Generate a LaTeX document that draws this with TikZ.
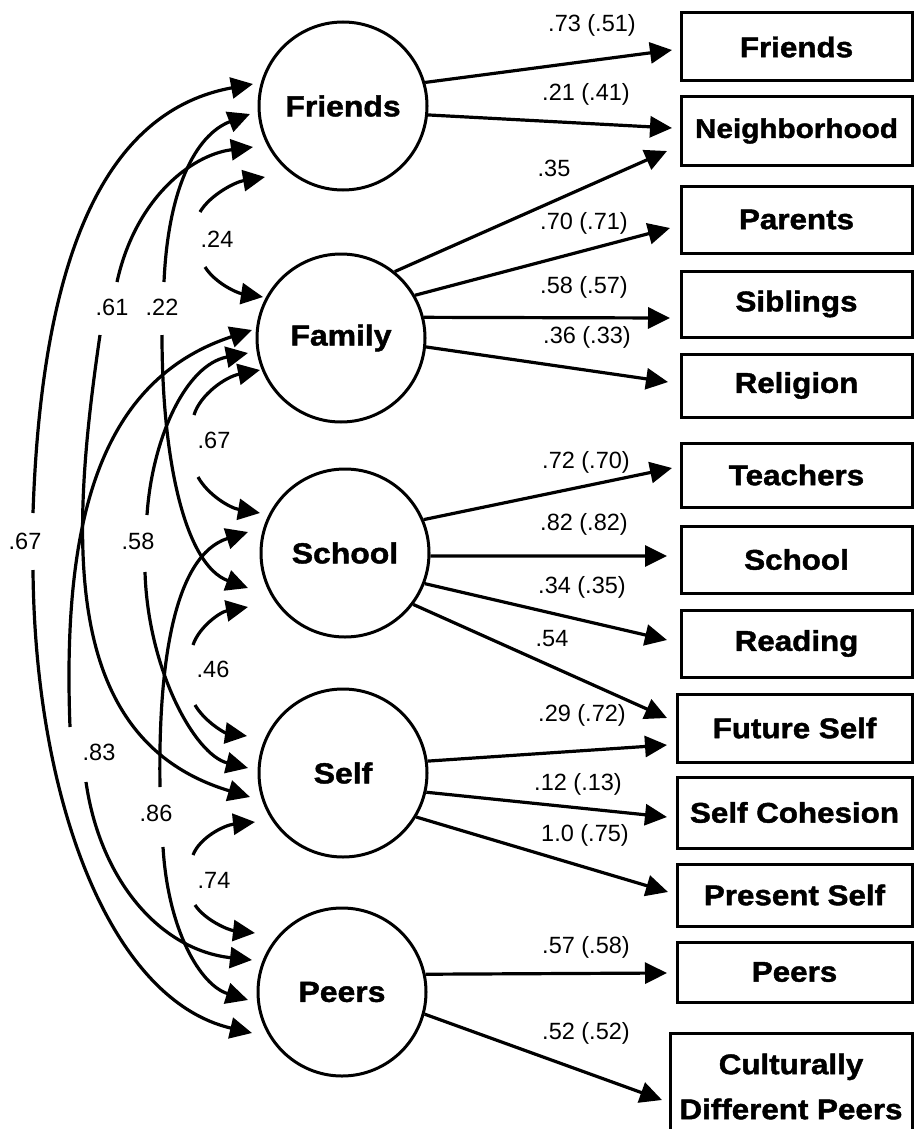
\documentclass[tikz,border=0pt]{standalone}
\usepackage{fontspec}
\setmainfont{Liberation Sans}
\newfontfamily\heavy{Liberation Sans}[FakeStretch=1.1,FakeBold=1.5]
\usetikzlibrary{arrows.meta,calc}
\begin{document}
\begin{tikzpicture}[x=1pt,y=-1pt,
  lat/.style={circle,draw,line width=3pt,minimum size=168pt,inner sep=0pt,font=\heavy\bfseries\fontsize{29}{34}\selectfont},
  ind/.style={rectangle,draw,line width=3pt,inner sep=0pt,font=\heavy\bfseries\fontsize{28.5}{45}\selectfont},
  arr/.style={line width=3.2pt,-{Triangle[length=22pt,width=21pt]}},
  lbl/.style={font=\fontsize{23.5}{28}\selectfont,inner sep=0pt}]
\useasboundingbox (0,0) rectangle (913,1129);
\fill[white] (0,0) rectangle (913,1129);
% latent factors
\node[lat] (cFr) at (343,106) {Friends};
\node[lat] (cFa) at (341,338) {Family};
\node[lat] (cSc) at (345,553) {School};
\node[lat] (cSe) at (343,773) {Self};
\node[lat] (cPe) at (342,992) {Peers};
% indicators
\node[ind,minimum width=231pt,minimum height=68pt] (bFr) at (796.5,47) {Friends};
\node[ind,minimum width=231pt,minimum height=68pt,font=\heavy\bfseries\fontsize{27}{34}\selectfont] (bNe) at (796.5,131) {Neighborhood};
\node[ind,minimum width=231pt,minimum height=67pt] (bPa) at (796.5,219.5) {Parents};
\node[ind,minimum width=231pt,minimum height=66pt] (bSi) at (796.5,304) {Siblings};
\node[ind,minimum width=231pt,minimum height=63pt] (bRe) at (796.5,385.5) {Religion};
\node[ind,minimum width=231pt,minimum height=64pt] (bTe) at (796.5,475) {Teachers};
\node[ind,minimum width=231pt,minimum height=67pt] (bSc) at (796.5,559.5) {School};
\node[ind,minimum width=231pt,minimum height=67pt] (bRd) at (796.5,643.5) {Reading};
\node[ind,minimum width=235pt,minimum height=68pt] (bFu) at (794.5,728) {Future Self};
\node[ind,minimum width=235pt,minimum height=71pt] (bCo) at (794.5,812.5) {Self Cohesion};
\node[ind,minimum width=235pt,minimum height=62pt] (bPr) at (794.5,895) {Present Self};
\node[ind,minimum width=235pt,minimum height=60pt] (bPe) at (794.5,972) {Peers};
\node[ind,minimum width=242pt,minimum height=107pt,align=center] (bCu) at (791,1086.5) {Culturally\\Different Peers};
% arrow tip points at indicators
\coordinate (tFr) at (672,50);
\coordinate (tNe1) at (672,128);
\coordinate (tNe2) at (667,151);
\coordinate (tPa) at (670,228);
\coordinate (tSi) at (670,318);
\coordinate (tRe) at (668,382);
\coordinate (tTe) at (672,468);
\coordinate (tSc) at (667,556);
\coordinate (tRd) at (667,640);
\coordinate (tFu1) at (667,718);
\coordinate (tFu2) at (667,745);
\coordinate (tCo) at (667,817);
\coordinate (tPr) at (668,892);
\coordinate (tPe) at (667,973);
\coordinate (tCu) at (662,1100);
% loadings
\draw[arr] (cFr.16.6) -- (tFr);
\draw[arr] (cFr.-6.7) -- (tNe1);
\draw[arr] (cFa.51) -- (tNe2);
\draw[arr] (cFa.30) -- (tPa);
\draw[arr] (cFa.14.8) -- (tSi);
\draw[arr] (cFa.-6) -- (tRe);
\draw[arr] (cSc.23.6) -- (tTe);
\draw[arr] (cSc.-2) -- (tSc);
\draw[arr] (cSc.-21.3) -- (tRd);
\draw[arr] (cSc.-37.6) -- (tFu1);
\draw[arr] (cSe.8.8) -- (tFu2);
\draw[arr] (cSe.-13.4) -- (tCo);
\draw[arr] (cSe.-31.9) -- (tPr);
\draw[arr] (cPe.12.6) -- (tPe);
\draw[arr] (cPe.-15.5) -- (tCu);
% loading labels
\node[lbl] at (592,25) {.73 (.51)};
\node[lbl] at (586,94) {.21 (.41)};
\node[lbl] at (554,168) {.35};
\node[lbl] at (584,223) {.70 (.71)};
\node[lbl] at (584,287) {.58 (.57)};
\node[lbl] at (587,337) {.36 (.33)};
\node[lbl] at (586,462) {.72 (.70)};
\node[lbl] at (584,524) {.82 (.82)};
\node[lbl] at (582,587) {.34 (.35)};
\node[lbl] at (552,639) {.54};
\node[lbl] at (582,715) {.29 (.72)};
\node[lbl] at (578,784) {.12 (.13)};
\node[lbl] at (585,835) {1.0 (.75)};
\node[lbl] at (586,947) {.57 (.58)};
\node[lbl] at (586,1033) {.52 (.52)};
% arrow tip points at factors (left side)
\coordinate (fr1) at (253,84);
\coordinate (fr2) at (250,114);
\coordinate (fr3) at (253,147);
\coordinate (fr4) at (265,177);
\coordinate (fa1) at (263,297);
\coordinate (fa2) at (252,330);
\coordinate (fa3) at (248,353);
\coordinate (fa4) at (260,370);
\coordinate (sc1) at (260,513);
\coordinate (sc2) at (248,532);
\coordinate (sc3) at (248,588);
\coordinate (sc4) at (248,607);
\coordinate (se1) at (247,736);
\coordinate (se2) at (248,768);
\coordinate (se3) at (250,797);
\coordinate (se4) at (255,822);
\coordinate (pe1) at (255,933);
\coordinate (pe2) at (252,960);
\coordinate (pe3) at (248,1000);
\coordinate (pe4) at (252,1033);
% correlation labels
\node[lbl] (l24) at (217,239) {.24};
\node[lbl] (l61) at (112,307) {.61};
\node[lbl] (l22) at (162,307) {.22};
\node[lbl] (l67o) at (25,541) {.67};
\node[lbl] (l58) at (138,541) {.58};
\node[lbl] (l67) at (214,440) {.67};
\node[lbl] (l46) at (213,669) {.46};
\node[lbl] (l83) at (99,752) {.83};
\node[lbl] (l86) at (156,813) {.86};
\node[lbl] (l74) at (214,880) {.74};
% correlations
% Friends-Peers .67
\draw[arr] (33,513) .. controls (42,245) and (110,110) .. (fr1);
\draw[arr] (33,570) .. controls (35,800) and (110,1000) .. (pe4);
% Friends-Self .61
\draw[arr] (117,282) .. controls (135,200) and (190,155) .. (fr3);
\draw[arr] (100,335) .. controls (70,540) and (60,740) .. (se3);
% Friends-School .22
\draw[arr] (164,282) .. controls (168,190) and (195,135) .. (fr2);
\draw[arr] (162,335) .. controls (162,460) and (185,565) .. (sc3);
% Family-Self .58
\draw[arr] (147,515) .. controls (152,440) and (185,365) .. (fa3);
\draw[arr] (145,572) .. controls (148,670) and (195,755) .. (se2);
% Family-Peers .83
\draw[arr] (70,727) .. controls (62,520) and (100,380) .. (fa2);
\draw[arr] (86,782) .. controls (100,880) and (160,950) .. (pe2);
% School-Peers .86
\draw[arr] (160,787) .. controls (158,660) and (175,555) .. (sc2);
\draw[arr] (163,847) .. controls (168,930) and (200,985) .. (pe3);
% adjacent
\draw[arr] (200,212) .. controls (210,195) and (235,182) .. (fr4);
\draw[arr] (205,267) .. controls (215,283) and (237,293) .. (fa1);
\draw[arr] (194,415) .. controls (200,395) and (225,377) .. (fa4);
\draw[arr] (198,477) .. controls (208,495) and (230,508) .. (sc1);
\draw[arr] (193,645) .. controls (199,627) and (220,612) .. (sc4);
\draw[arr] (195,705) .. controls (205,722) and (225,733) .. (se1);
\draw[arr] (193,855) .. controls (200,837) and (225,825) .. (se4);
\draw[arr] (195,905) .. controls (205,920) and (228,930) .. (pe1);
\end{tikzpicture}
\end{document}
